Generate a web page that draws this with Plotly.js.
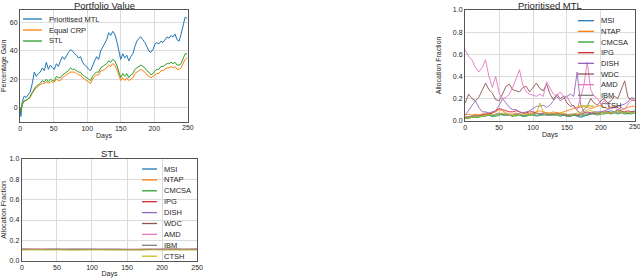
<!DOCTYPE html>
<html>
<head>
<meta charset="utf-8">
<script src="https://cdn.plot.ly/plotly-3.0.1.min.js"></script>
<style>
html,body{margin:0;padding:0;background:#fff;}
#chart{width:640px;height:278px;}
</style>
</head>
<body>
<div id="chart"></div>
<script>
// ---------------- DATA ----------------
// Panel 1: Portfolio Value (percentage gain by day)
const days1 = [0,1,3,6,9,12,15,18,21,24,27,30,33,36,39,42,45,48,51,54,57,60,63,66,69,72,75,78,81,84,87,90,93,96,99,102,105,108,111,114,117,120,123,126,129,132,135,138,141,144,147,150,153,156,159,162,165,168,171,174,177,180,183,186,189,192,195,198,201,204,207,210,213,216,219,222,225,228,231,234,237,240,243,246,249];
const prioritisedMTL = [0,-6.5,4,8,7,9,11,17,25,22,24,25,28,26,32,27,30,28,27,31,29,33,36,34,37,39,41,40,38,37,35,36,32,30,29,27,26,30,33,36,34,40,43,45,48,53,51,54,52,47,40,34,38,35,37,33,36,38,43,47,49,50,48,46,43,40,39,41,45,46,45,47,46,48,50,49,51,50,52,48,47,52,58,64,63];
const equalCRP = [0,-3,2,4,5,6,7,10,12,14,15,16,17,17,18,17,18,18,18,20,19,19,21,22,23,24,25,25,25,24,23,23,21,20,19,18,17,20,22,23,23,26,26,27,28,30,29,31,30,27,23,19,21,19,21,19,20,21,24,25,26,27,26,25,23,22,21,22,23,24,24,26,26,27,28,28,29,28,29,27,27,28,31,34,35];
const stl = [0,-3,2,5,5,6,8,11,13,15,16,17,19,18,20,18,20,19,19,22,21,21,23,24,25,26,28,27,27,26,25,25,23,22,21,20,19,22,24,25,25,28,29,30,31,33,32,34,33,30,26,21,24,22,24,21,23,24,27,28,29,30,29,28,26,25,23,24,26,27,27,29,29,30,31,31,32,31,32,30,30,31,34,38,38];
const seriesNames1 = ["Prioritised MTL","Equal CRP","STL"];

// Panel 2: Prioritised MTL allocation fractions
const days2 = [0,5,10,15,20,25,30,35,40,45,50,55,60,65,70,75,80,85,90,95,100,105,110,115,120,125,130,135,140,145,150,155,160,165,170,175,180,185,190,195,200,205,210,215,220,225,230,235,240,245,250];
const stocks = ["MSI","NTAP","CMCSA","IPG","DISH","WDC","AMD","IBM","CTSH"];
const mtlMSI   = [0.03,0.03,0.04,0.04,0.04,0.05,0.05,0.05,0.04,0.05,0.06,0.05,0.05,0.05,0.04,0.05,0.05,0.04,0.05,0.05,0.06,0.05,0.05,0.06,0.05,0.05,0.06,0.06,0.05,0.05,0.04,0.04,0.05,0.04,0.03,0.04,0.05,0.06,0.07,0.07,0.08,0.07,0.08,0.09,0.08,0.10,0.09,0.07,0.06,0.08,0.09];
const mtlNTAP  = [0.05,0.06,0.05,0.06,0.05,0.06,0.07,0.06,0.07,0.08,0.10,0.09,0.07,0.06,0.06,0.07,0.06,0.06,0.07,0.06,0.07,0.08,0.09,0.08,0.07,0.07,0.08,0.07,0.07,0.08,0.09,0.10,0.11,0.12,0.12,0.13,0.12,0.11,0.12,0.13,0.14,0.12,0.11,0.12,0.13,0.12,0.10,0.11,0.12,0.13,0.13];
const mtlCMCSA = [0.02,0.02,0.03,0.03,0.03,0.04,0.04,0.05,0.04,0.04,0.05,0.06,0.05,0.05,0.04,0.05,0.05,0.04,0.04,0.05,0.05,0.04,0.05,0.05,0.06,0.05,0.05,0.05,0.04,0.05,0.05,0.04,0.05,0.05,0.04,0.05,0.05,0.06,0.06,0.05,0.06,0.06,0.07,0.06,0.07,0.06,0.07,0.06,0.07,0.06,0.07];
const mtlIPG   = [0.03,0.03,0.04,0.04,0.05,0.05,0.06,0.06,0.07,0.09,0.11,0.10,0.09,0.08,0.08,0.09,0.08,0.07,0.07,0.08,0.08,0.07,0.06,0.07,0.07,0.06,0.06,0.07,0.06,0.06,0.05,0.05,0.06,0.05,0.06,0.07,0.08,0.07,0.07,0.06,0.07,0.08,0.08,0.07,0.08,0.09,0.08,0.08,0.09,0.08,0.08];
const mtlDISH  = [0.05,0.09,0.14,0.18,0.12,0.08,0.08,0.07,0.08,0.09,0.14,0.20,0.16,0.12,0.10,0.10,0.08,0.07,0.08,0.09,0.11,0.13,0.13,0.14,0.12,0.14,0.18,0.22,0.18,0.20,0.22,0.24,0.22,0.44,0.15,0.08,0.07,0.06,0.08,0.08,0.08,0.09,0.10,0.11,0.12,0.13,0.14,0.15,0.17,0.21,0.20];
const mtlWDC   = [0.16,0.24,0.20,0.18,0.21,0.27,0.34,0.28,0.25,0.19,0.18,0.24,0.31,0.33,0.28,0.27,0.26,0.30,0.31,0.26,0.30,0.34,0.29,0.27,0.33,0.24,0.19,0.24,0.20,0.22,0.16,0.13,0.14,0.09,0.07,0.10,0.13,0.20,0.16,0.14,0.18,0.20,0.16,0.18,0.22,0.20,0.28,0.36,0.21,0.19,0.18];
const mtlAMD   = [0.64,0.58,0.55,0.48,0.44,0.48,0.55,0.40,0.30,0.40,0.25,0.20,0.21,0.24,0.30,0.38,0.46,0.32,0.26,0.24,0.23,0.22,0.24,0.22,0.35,0.30,0.24,0.22,0.26,0.22,0.22,0.16,0.12,0.10,0.20,0.32,0.53,0.28,0.22,0.20,0.15,0.18,0.14,0.12,0.12,0.10,0.12,0.10,0.15,0.18,0.20];
const mtlIBM   = [0.03,0.04,0.04,0.05,0.04,0.05,0.05,0.06,0.05,0.06,0.07,0.06,0.06,0.05,0.05,0.06,0.06,0.05,0.05,0.06,0.06,0.07,0.06,0.06,0.05,0.06,0.06,0.05,0.06,0.05,0.05,0.06,0.06,0.05,0.05,0.06,0.06,0.07,0.06,0.07,0.07,0.08,0.07,0.07,0.08,0.07,0.08,0.07,0.08,0.07,0.08];
const mtlCTSH  = [0.02,0.03,0.03,0.04,0.04,0.04,0.05,0.05,0.06,0.05,0.06,0.07,0.06,0.05,0.05,0.04,0.05,0.06,0.06,0.05,0.06,0.07,0.16,0.08,0.07,0.06,0.07,0.06,0.06,0.07,0.06,0.05,0.06,0.07,0.06,0.08,0.10,0.09,0.08,0.07,0.07,0.08,0.07,0.07,0.08,0.09,0.08,0.07,0.08,0.07,0.08];

// Panel 3: STL allocation fractions
const days3 = [0,10,20,30,40,50,60,70,80,90,100,110,120,130,140,150,160,170,180,190,200,210,220,230,240,250];
const stlMSI   = [0.112,0.110,0.113,0.111,0.109,0.112,0.110,0.111,0.113,0.110,0.112,0.109,0.111,0.112,0.110,0.113,0.111,0.109,0.110,0.112,0.111,0.110,0.112,0.111,0.110,0.112];
const stlNTAP  = [0.110,0.112,0.109,0.111,0.113,0.110,0.111,0.109,0.112,0.110,0.111,0.113,0.110,0.109,0.112,0.110,0.111,0.112,0.109,0.111,0.110,0.112,0.110,0.111,0.109,0.111];
const stlCMCSA = [0.111,0.109,0.111,0.110,0.112,0.109,0.111,0.112,0.110,0.111,0.109,0.111,0.112,0.110,0.111,0.109,0.110,0.111,0.112,0.110,0.109,0.111,0.110,0.112,0.111,0.110];
const stlIPG   = [0.113,0.111,0.110,0.112,0.110,0.111,0.113,0.110,0.111,0.112,0.110,0.111,0.110,0.113,0.111,0.110,0.112,0.110,0.111,0.110,0.112,0.111,0.113,0.110,0.111,0.112];
const stlDISH  = [0.109,0.111,0.112,0.110,0.111,0.113,0.109,0.111,0.110,0.109,0.111,0.110,0.112,0.111,0.109,0.108,0.110,0.111,0.110,0.112,0.111,0.110,0.109,0.111,0.112,0.110];
const stlWDC   = [0.111,0.110,0.111,0.113,0.110,0.110,0.112,0.111,0.109,0.111,0.110,0.112,0.111,0.114,0.110,0.111,0.110,0.109,0.111,0.110,0.111,0.112,0.110,0.110,0.111,0.112];
const stlAMD   = [0.114,0.113,0.115,0.112,0.114,0.113,0.115,0.112,0.114,0.113,0.112,0.114,0.116,0.113,0.112,0.114,0.113,0.112,0.114,0.113,0.115,0.112,0.113,0.114,0.112,0.116];
const stlIBM   = [0.110,0.111,0.110,0.112,0.111,0.110,0.111,0.110,0.112,0.111,0.110,0.111,0.110,0.112,0.111,0.110,0.111,0.110,0.111,0.110,0.112,0.111,0.110,0.111,0.110,0.111];
const stlCTSH  = [0.106,0.107,0.105,0.106,0.107,0.105,0.106,0.104,0.106,0.105,0.107,0.106,0.105,0.106,0.107,0.105,0.106,0.105,0.104,0.106,0.105,0.106,0.107,0.105,0.106,0.105];

const tickDays = [0,50,100,150,200,250];
const tickGain = [0,20,40,60];
const tickFrac = [0,0.2,0.4,0.6,0.8,1.0];

// ---------------- STYLE ----------------
const W = 640, H = 278;
const px = v => v / W;
const py = v => 1 - v / H;
const colors1 = ["#1f77b4","#ff7f0e","#2ca02c"];
const stockColors = ["#1f77b4","#ff7f0e","#2ca02c","#d62728","#9467bd","#8c564b","#e377c2","#7f7f7f","#bcbd22"];
const FONT = "Liberation Sans, Arial, sans-serif";
const TXT = "#262626";
const dayRange = [-0.3, 250.3];

const mtlSeries = [mtlMSI,mtlNTAP,mtlCMCSA,mtlIPG,mtlDISH,mtlWDC,mtlAMD,mtlIBM,mtlCTSH];
const stlSeries = [stlMSI,stlNTAP,stlCMCSA,stlIPG,stlDISH,stlWDC,stlAMD,stlIBM,stlCTSH];
const vals1 = [prioritisedMTL, equalCRP, stl];

const traces = [];
vals1.forEach((v,i) => traces.push({x: days1, y: v, name: seriesNames1[i], type:'scatter', mode:'lines',
  line:{color:colors1[i], width:1}, xaxis:'x', yaxis:'y', showlegend:false}));
mtlSeries.forEach((v,i) => traces.push({x: days2, y: v, name: stocks[i], type:'scatter', mode:'lines',
  line:{color:stockColors[i], width:0.9}, xaxis:'x2', yaxis:'y2', showlegend:false}));
stlSeries.forEach((v,i) => traces.push({x: days3, y: v, name: stocks[i], type:'scatter', mode:'lines',
  line:{color:stockColors[i], width:0.9}, xaxis:'x3', yaxis:'y3', showlegend:false}));

function axis(extra){
  return Object.assign({
    showgrid:true, gridcolor:'#dcdcdc', gridwidth:1,
    showline:true, mirror:true, linecolor:'#555', linewidth:1,
    zeroline:false, ticks:'', automargin:false, ticklabeloverflow:'allow',
    tickfont:{family:FONT, size:7, color:TXT}
  }, extra);
}
const atitle = (t, s) => ({text:t, font:{family:FONT, size:7, color:TXT}, standoff:s});

const shapes = [], annotations = [];
function addLegend(names, cols, x0, x1, xt, y0, dy, w){
  names.forEach((n,i) => {
    const y = y0 + dy*i;
    shapes.push({type:'line', xref:'paper', yref:'paper', x0:px(x0), x1:px(x1), y0:py(y), y1:py(y),
      line:{color:cols[i], width:w}});
    annotations.push({xref:'paper', yref:'paper', x:px(xt), y:py(y), text:n, showarrow:false,
      xanchor:'left', yanchor:'middle', font:{family:FONT, size:7.5, color:TXT}});
  });
}
addLegend(seriesNames1, colors1, 23, 42, 47, 19, 11, 1.3);
addLegend(stocks, stockColors, 578, 594, 599, 20.7, 10.66, 1.3);
addLegend(stocks, stockColors, 142, 157, 162, 169, 10.9, 1.3);

function addTitle(t, x, y){
  annotations.push({xref:'paper', yref:'paper', x:px(x), y:py(y), text:t, showarrow:false,
    xanchor:'center', yanchor:'middle', font:{family:FONT, size:9.5, color:TXT}});
}
addTitle("Portfolio Value", 104, 5);
addTitle("Prioritised MTL", 550, 5);
addTitle("STL", 109.5, 153);

// last day tick label for the top-row axes (placed on the data scale)
const lastDay = tickDays[tickDays.length - 1];
[['x', 121.7], ['x2', 120.7]].forEach(([xr, bottom]) => {
  annotations.push({xref:xr, yref:'paper', x:lastDay, y:py(bottom + 5.5), text:String(lastDay), showarrow:false,
    xanchor:'center', yanchor:'middle', borderpad:0, font:{family:FONT, size:7, color:TXT}});
});

const layout = {
  width:W, height:H, margin:{l:0,r:0,t:0,b:0},
  paper_bgcolor:'#fff', plot_bgcolor:'#fff', showlegend:false,
  xaxis: axis({domain:[px(20), px(188)], anchor:'y', range:dayRange, tickvals:tickDays.slice(0,-1), title:atitle('Days',2)}),
  yaxis: axis({domain:[py(121.7), py(10)], anchor:'x', range:[-10.2,69.1], tickvals:tickGain, title:atitle('Percentage Gain',4)}),
  xaxis2: axis({domain:[px(465), px(635)], anchor:'y2', range:dayRange, tickvals:tickDays.slice(0,-1), title:atitle('Days',2)}),
  yaxis2: axis({domain:[py(120.7), py(10)], anchor:'x2', range:[0,1], tickvals:tickFrac, tickformat:'.1f', title:atitle('Allocation Fraction',10)}),
  xaxis3: axis({domain:[px(21.7), px(197.3)], anchor:'y3', range:dayRange, tickvals:tickDays, title:atitle('Days',2)}),
  yaxis3: axis({domain:[py(260.7), py(159)], anchor:'x3', range:[0,1], tickvals:tickFrac, tickformat:'.1f', title:atitle('Allocation Fraction',4)}),
  shapes: shapes, annotations: annotations
};
Plotly.newPlot('chart', traces, layout, {displayModeBar:false, staticPlot:true});
</script>
</body>
</html>
